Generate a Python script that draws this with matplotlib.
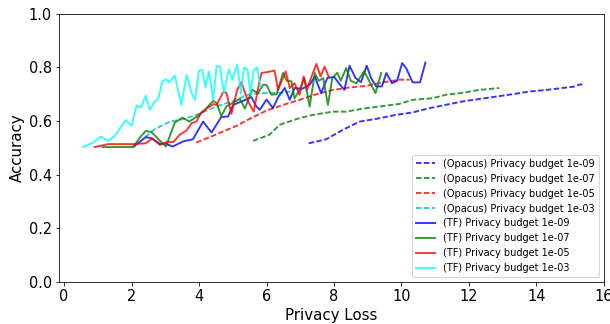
import matplotlib
matplotlib.use("Agg")
import matplotlib.pyplot as plt

# Opacus runs (dashed)
opacus_1e09_x = [7.25, 7.77, 8.26, 8.76, 9.25, 9.84, 10.33, 10.83, 11.3, 11.81, 12.3, 12.8, 13.3, 13.79, 14.3, 14.77, 15.1, 15.31, 15.41]
opacus_1e09_y = [0.517, 0.532, 0.567, 0.598, 0.608, 0.623, 0.632, 0.648, 0.66, 0.673, 0.682, 0.691, 0.70, 0.71, 0.716, 0.723, 0.728, 0.737, 0.733]

opacus_1e07_x = [5.6, 6.09, 6.39, 6.98, 7.38, 7.97, 8.36, 8.95, 9.35, 9.94, 10.33, 10.93, 11.32, 11.8, 12.31, 12.9]
opacus_1e07_y = [0.526, 0.549, 0.586, 0.611, 0.623, 0.635, 0.635, 0.648, 0.654, 0.664, 0.679, 0.685, 0.698, 0.705, 0.716, 0.723]

opacus_1e05_x = [3.92, 4.32, 4.71, 5.11, 5.5, 6.0, 6.49, 6.98, 7.48, 7.97, 8.46, 8.95, 9.45, 9.94, 10.24]
opacus_1e05_y = [0.52, 0.54, 0.561, 0.582, 0.608, 0.639, 0.660, 0.679, 0.70, 0.716, 0.725, 0.731, 0.744, 0.754, 0.754]

opacus_1e03_x = [2.4, 2.69, 3.14, 3.53, 3.92, 4.52, 5.0, 5.5, 6.0, 6.5, 6.7]
opacus_1e03_y = [0.54, 0.57, 0.598, 0.607, 0.623, 0.654, 0.675, 0.70, 0.705, 0.705, 0.71]

# TF runs (solid)
tf_1e09_x = [2.07, 2.42, 2.59, 2.84, 3.02, 3.22, 3.53, 3.82, 4.12, 4.37, 4.66, 4.86, 5.01, 5.26, 5.55, 5.7, 5.8, 6.0, 6.19, 6.35, 6.54, 6.69, 6.83, 7.05, 7.28, 7.43, 7.62, 7.8, 8.0, 8.15, 8.31, 8.46, 8.64, 8.8, 8.97, 9.1, 9.25, 9.42, 9.55, 9.72, 9.87, 10.02, 10.14, 10.33, 10.55, 10.71]
tf_1e09_y = [0.505, 0.54, 0.536, 0.515, 0.515, 0.505, 0.524, 0.532, 0.598, 0.557, 0.615, 0.617, 0.66, 0.673, 0.689, 0.654, 0.642, 0.68, 0.648, 0.69, 0.723, 0.679, 0.723, 0.72, 0.735, 0.766, 0.704, 0.76, 0.765, 0.74, 0.716, 0.806, 0.76, 0.745, 0.806, 0.76, 0.729, 0.729, 0.779, 0.741, 0.75, 0.816, 0.797, 0.744, 0.744, 0.818]

tf_1e07_x = [1.14, 2.05, 2.25, 2.42, 2.59, 2.84, 3.02, 3.28, 3.51, 3.71, 3.92, 4.12, 4.42, 4.52, 4.66, 4.81, 4.99, 5.21, 5.36, 5.57, 5.75, 5.9, 6.0, 6.14, 6.3, 6.49, 6.6, 6.74, 6.83, 6.98, 7.12, 7.28, 7.43, 7.55, 7.68, 7.82, 7.95, 8.1, 8.2, 8.36, 8.5, 8.66, 8.89, 9.0, 9.23, 9.4]
tf_1e07_y = [0.503, 0.503, 0.539, 0.563, 0.559, 0.527, 0.505, 0.594, 0.613, 0.598, 0.615, 0.635, 0.675, 0.667, 0.619, 0.654, 0.667, 0.682, 0.646, 0.716, 0.704, 0.735, 0.735, 0.698, 0.70, 0.779, 0.75, 0.748, 0.684, 0.716, 0.76, 0.654, 0.779, 0.75, 0.76, 0.660, 0.76, 0.78, 0.75, 0.797, 0.75, 0.741, 0.785, 0.76, 0.704, 0.779]

tf_1e05_x = [0.90, 1.31, 2.05, 2.42, 2.62, 2.84, 3.04, 3.24, 3.43, 3.63, 3.78, 3.92, 4.07, 4.22, 4.42, 4.52, 4.71, 4.81, 4.96, 5.13, 5.26, 5.38, 5.48, 5.62, 5.78, 5.85, 6.0, 6.12, 6.24, 6.34, 6.57, 6.69, 6.83, 6.98, 7.10, 7.20, 7.30, 7.48, 7.60, 7.72, 7.84]
tf_1e05_y = [0.503, 0.514, 0.514, 0.517, 0.535, 0.511, 0.522, 0.522, 0.549, 0.565, 0.592, 0.598, 0.632, 0.646, 0.663, 0.660, 0.706, 0.706, 0.627, 0.716, 0.745, 0.698, 0.667, 0.635, 0.741, 0.779, 0.782, 0.785, 0.788, 0.716, 0.785, 0.723, 0.741, 0.698, 0.766, 0.716, 0.754, 0.813, 0.766, 0.803, 0.766]

tf_1e03_x = [0.57, 0.87, 1.08, 1.31, 1.51, 1.83, 2.0, 2.15, 2.28, 2.42, 2.54, 2.69, 2.79, 2.91, 3.02, 3.12, 3.28, 3.48, 3.63, 3.78, 3.88, 4.0, 4.1, 4.19, 4.29, 4.42, 4.52, 4.62, 4.74, 4.88, 4.99, 5.13, 5.24, 5.34, 5.44, 5.52, 5.62, 5.72, 5.82]
tf_1e03_y = [0.503, 0.52, 0.542, 0.526, 0.545, 0.604, 0.582, 0.658, 0.65, 0.694, 0.642, 0.673, 0.682, 0.747, 0.756, 0.744, 0.77, 0.660, 0.772, 0.704, 0.679, 0.788, 0.791, 0.726, 0.785, 0.679, 0.806, 0.803, 0.704, 0.793, 0.754, 0.810, 0.702, 0.80, 0.79, 0.70, 0.79, 0.80, 0.73]

LW = 1.9
DASH = (0, (5.5 / LW, 2.4 / LW))

fig = plt.figure(figsize=(610 / 72, 324 / 72), dpi=72)
ax = fig.add_axes([0.0962, 0.1296, 0.8938, 0.8281])

ax.plot(opacus_1e09_x, opacus_1e09_y, ls=DASH, color="b", alpha=0.8, lw=LW, label="(Opacus) Privacy budget 1e-09")
ax.plot(opacus_1e07_x, opacus_1e07_y, ls=DASH, color="g", alpha=0.8, lw=LW, label="(Opacus) Privacy budget 1e-07")
ax.plot(opacus_1e05_x, opacus_1e05_y, ls=DASH, color="r", alpha=0.8, lw=LW, label="(Opacus) Privacy budget 1e-05")
ax.plot(opacus_1e03_x, opacus_1e03_y, ls=DASH, color="c", alpha=0.8, lw=LW, label="(Opacus) Privacy budget 1e-03")
ax.plot(tf_1e09_x, tf_1e09_y, "-", color="blue", alpha=0.8, lw=LW, label="(TF) Privacy budget 1e-09")
ax.plot(tf_1e07_x, tf_1e07_y, "-", color="green", alpha=0.8, lw=LW, label="(TF) Privacy budget 1e-07")
ax.plot(tf_1e05_x, tf_1e05_y, "-", color="red", alpha=0.8, lw=LW, label="(TF) Privacy budget 1e-05")
ax.plot(tf_1e03_x, tf_1e03_y, "-", color="cyan", alpha=0.8, lw=LW, label="(TF) Privacy budget 1e-03")

ax.set_xlim(-0.16, 16)
ax.set_ylim(0.0, 1.0)
ax.set_xticks(range(0, 17, 2))
ax.set_yticks([0.0, 0.2, 0.4, 0.6, 0.8, 1.0])
ax.tick_params(labelsize=14.5)
ax.set_xlabel("Privacy Loss", fontsize=15)
ax.set_ylabel("Accuracy", fontsize=15)
ax.legend(loc="lower right", fontsize=9.8)

fig.savefig("out.png", dpi=72)
